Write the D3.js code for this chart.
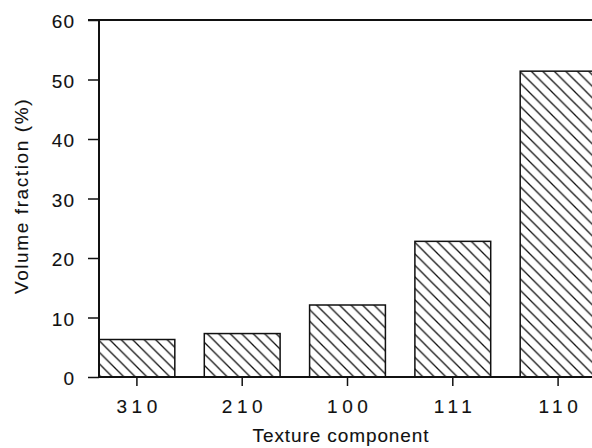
<!DOCTYPE html>
<html>
<head>
<meta charset="utf-8">
<script src="https://cdn.jsdelivr.net/npm/d3@7"></script>
<style>
  html, body { margin: 0; padding: 0; background: #fff; }
  svg { display: block; font-family: 'Liberation Sans', Arial, sans-serif; }
  svg text { stroke: #111; stroke-width: 0.12px; }
</style>
</head>
<body>
<div id="chart"></div>
<script>
const categories = ['310', '210', '100', '111', '110']
const volumeFraction = [6.3, 7.3, 12.1, 22.8, 51.4]
const yTicks = [0, 10, 20, 30, 40, 50, 60]
const yTitle = 'Volume fraction (%)'
const xTitle = 'Texture component'

const width = 592
const height = 448
const margin = { top: 20, left: 99, bottom: 71 }
const plotBottom = height - margin.bottom

const svg = d3.select('#chart').append('svg')
  .attr('width', width)
  .attr('height', height)

// hatch pattern for bars
svg.append('defs').append('pattern')
  .attr('id', 'hatch')
  .attr('patternUnits', 'userSpaceOnUse')
  .attr('width', 11.5)
  .attr('height', 11.5)
  .append('path')
  .attr('d', 'M0,0L11.5,11.5M-3,8.5L3,14.5M8.5,-3L14.5,3')
  .attr('stroke', '#111')
  .attr('stroke-width', 1.3)

const xScale = d3.scaleBand()
  .domain(categories)
  .range([margin.left, 596])
  .paddingInner(0.28)
  .paddingOuter(0)

const yScale = d3.scaleLinear()
  .domain([0, 60])
  .range([plotBottom, margin.top])

// bars
svg.selectAll('.bar')
  .data(categories)
  .enter().append('rect')
  .attr('class', 'bar')
  .attr('x', d => xScale(d))
  .attr('y', (d, i) => yScale(volumeFraction[i]))
  .attr('width', xScale.bandwidth())
  .attr('height', (d, i) => plotBottom - yScale(volumeFraction[i]))
  .attr('fill', 'url(#hatch)')
  .attr('stroke', '#111')
  .attr('stroke-width', 1.5)

// y axis
const yAxis = svg.append('g')
  .attr('transform', 'translate(' + margin.left + ',0)')
  .call(d3.axisLeft(yScale).tickValues(yTicks).tickSize(11).tickPadding(13))

yAxis.select('.domain').remove()
yAxis.selectAll('line').attr('stroke', '#111').attr('stroke-width', 1.5)
yAxis.selectAll('text')
  .attr('font-size', 19)
  .attr('fill', '#111')
  .attr('letter-spacing', 1)
  .attr('dy', '0.4em')

svg.append('line')
  .attr('x1', margin.left).attr('x2', margin.left)
  .attr('y1', margin.top).attr('y2', plotBottom)
  .attr('stroke', '#111').attr('stroke-width', 2)

// top frame line
svg.append('line')
  .attr('x1', margin.left - 11).attr('x2', width)
  .attr('y1', margin.top).attr('y2', margin.top)
  .attr('stroke', '#111').attr('stroke-width', 2)

// x axis
const xAxis = svg.append('g')
  .attr('transform', 'translate(0,' + plotBottom + ')')
  .call(d3.axisBottom(xScale).tickSize(9).tickPadding(14))

xAxis.select('.domain').remove()
xAxis.selectAll('line').attr('stroke', '#111').attr('stroke-width', 1.5)
xAxis.selectAll('text')
  .attr('font-size', 19)
  .attr('fill', '#111')
  .attr('letter-spacing', 4.5)
  .attr('dx', 2.2)
  .attr('dy', '0.68em')

svg.append('line')
  .attr('x1', margin.left).attr('x2', width)
  .attr('y1', plotBottom).attr('y2', plotBottom)
  .attr('stroke', '#111').attr('stroke-width', 2)

// axis titles
svg.append('text')
  .attr('x', 341)
  .attr('y', 442)
  .attr('text-anchor', 'middle')
  .attr('font-size', 19)
  .attr('letter-spacing', 0.9)
  .attr('fill', '#111')
  .text(xTitle)

svg.append('text')
  .attr('transform', 'translate(28,196) rotate(-90)')
  .attr('text-anchor', 'middle')
  .attr('font-size', 19)
  .attr('letter-spacing', 1.6)
  .attr('fill', '#111')
  .text(yTitle)
</script>
</body>
</html>
